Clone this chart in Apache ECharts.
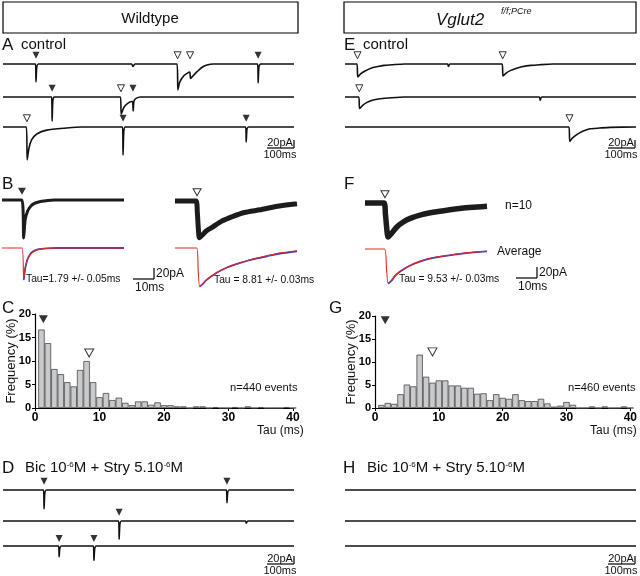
<!DOCTYPE html>
<html>
<head>
<meta charset="utf-8">
<script src="https://cdn.jsdelivr.net/npm/echarts@6/dist/echarts.min.js"></script>
<style>
  html, body { margin: 0; padding: 0; background: #fff; }
  #chart { width: 640px; height: 576px; }
</style>
</head>
<body>
<div id="chart"></div>
<script>
// ---- histogram data: Tau bins (ms) and frequency (%) ----
var tauBins = [1, 2, 3, 4, 5, 6, 7, 8, 9, 10, 11, 12, 13, 14, 15, 16, 17, 18, 19, 20,
  21, 22, 23, 24, 25, 26, 27, 28, 29, 30, 31, 32, 33, 34, 35, 36, 37, 38, 39, 40];
var wildtypeFreq = [16.7, 13.8, 8.3, 7.2, 5.5, 4.6, 8.1, 10.0, 5.5, 2.3, 3.2, 1.7, 2.2, 1.1, 0.6, 1.4, 1.4, 0.7, 1.2, 0.6,
  0.6, 0.35, 0.35, 0, 0.35, 0.35, 0, 0.2, 0, 0, 0.2, 0, 0.35, 0, 0.2, 0, 0, 0, 0.2, 0];
var vglutFreq = [0.65, 1.1, 0.9, 3.0, 5.1, 4.7, 11.6, 6.8, 5.5, 6.0, 6.0, 4.9, 4.9, 4.4, 4.4, 3.1, 3.2, 1.7, 3.0, 2.2,
  2.0, 3.0, 1.7, 1.5, 1.5, 2.0, 1.0, 0.3, 0.5, 1.3, 0.7, 0, 0, 0.35, 0, 0.35, 0, 0, 0.35, 0];
var freqTicks = [0, 5, 10, 15, 20];
var tauTicks = [0, 10, 20, 30, 40];
// arrow marks on histograms [tau, %]
var wtFastMark = [[1.3, 18.9]];
var wtSlowMark = [[8.4, 11.7]];
var vgFastMark = [[1.6, 19.1]];
var vgSlowMark = [[9.0, 12.2]];

// ---- recordings, [time ms, current pA] ----
var traceA1 = [[0, 0], [125, 0], [127, -51], [130, -8], [136, 0], [495, 0], [500, -7], [508, 0], [670, 0], [673, -74], [680, -52],
  [695, -34], [710, -26], [719, -23], [722, -41], [735, -31], [747, -22], [765, -10], [785, -3], [810, 0], [980, 0], [982, -54],
  [985, -8], [991, 0], [1120, 0]];
var traceA2 = [[0, 0], [187, 0], [189, -69], [192, -10], [198, 0], [452, 0], [455, -49], [465, -30], [480, -18], [496, -13],
  [499, -13], [501, -40], [504, -12], [512, -4], [530, 0], [1120, 0]];
var traceA3 = [[0, 0], [90, 0], [93, -94], [100, -60], [110, -37], [130, -20], [168, -9], [245, -3], [300, 0], [460, 0],
  [462, -80], [465, -12], [471, 0], [934, 0], [936, -43], [939, -6], [945, 0], [1120, 0]];
var fastA = [[127, 982], [189, 500], [462, 936]];
var slowA = [[672, 720], [454], [92]];

var traceE1 = [[0, 0], [46, 0], [49, -37], [60, -28], [77, -20], [100, -12], [122, -8], [150, -4], [185, -2], [230, 0],
  [395, 0], [398, -7], [404, 0], [605, 0], [608, -34], [620, -26], [636, -19], [660, -12], [681, -8], [715, -4], [750, -2],
  [800, 0], [1120, 0]];
var traceE2 = [[0, 0], [53, 0], [56, -33], [68, -24], [83, -16], [105, -9], [135, -5], [180, -2], [230, 0], [748, 0],
  [751, -9], [757, 0], [1120, 0]];
var traceE3 = [[0, 0], [862, 0], [865, -41], [875, -32], [892, -22], [915, -12], [943, -5], [980, -3], [1020, -1], [1120, 0]];
var slowE = [[48, 607], [55], [864]];

var traceD1 = [[0, 0], [156, 0], [158, -54], [161, -8], [167, 0], [860, 0], [862, -36], [865, -6], [871, 0], [1120, 0]];
var traceD2 = [[0, 0], [445, 0], [447, -52], [450, -8], [456, 0], [933, 0], [936, -6], [942, 0], [1120, 0]];
var traceD3 = [[0, 0], [214, 0], [216, -36], [219, -6], [225, 0], [348, 0], [350, -48], [353, -8], [359, 0], [1120, 0]];
var fastD = [[158, 862], [447], [216, 350]];

var traceH1 = [[0, 0], [1120, 0]];
var traceH2 = [[0, 0], [1120, 0]];
var traceH3 = [[0, 0], [1120, 0]];

// superimposed events (B, F), time ms
var fastEvents = [[0, 0], [9.5, 0], [10.3, -69], [11, -36], [12.2, -20], [13.5, -12], [15, -7], [17, -4], [20, -2], [25, 0], [58, 0]];
var fastAverage = [[0, 0], [9.5, 0], [10.3, -58], [11, -36], [12, -22], [13, -14], [14.5, -8], [17, -3], [21, -1], [26, 0], [58, 0]];
var fastFit = [[10.3, -58], [11, -38], [12, -22], [13, -13.5], [14.5, -7], [17, -2.5], [21, -0.5], [26, 0], [58, 0]];
var slowEvents = [[0, 0], [10, 0], [10.6, -20], [11.6, -67], [13, -62], [15, -54], [18, -47], [22, -37], [27.6, -28], [33, -21],
  [40.5, -16], [48, -10], [58, -5]];
var slowAverage = [[0, 0], [10.3, 0], [11, -40], [11.7, -70], [13, -66], [15, -58], [19.8, -45], [25, -35], [31, -27], [37, -20],
  [43.7, -14], [50, -9], [58, -5]];
var slowFit = [[11.7, -70], [13, -66], [15, -58], [19.8, -45], [25, -35], [31, -27], [37, -20.5], [43.7, -15], [50, -10], [58, -6]];
var vgEvents = [[0, 0], [9, 0], [9.7, -20], [11, -62], [12.5, -56], [15, -44], [18, -35], [21.5, -28], [27, -21], [34, -16],
  [45, -10], [58, -6]];
var vgAverage = [[0, 0], [9.3, 0], [10.2, -35], [11, -63], [12.5, -58], [14.5, -48], [16.7, -41], [21, -31], [26, -22.5],
  [32, -16], [39, -12], [48, -7], [58, -4]];
var vgFit = [[11, -63], [12.5, -58], [14.5, -48], [16.7, -41], [21, -31], [26, -23], [32, -16.5], [39, -12], [48, -7.5], [58, -4.5]];

var FONT = '"Liberation Sans", Arial, sans-serif';
var RED = '#e5261f';
var BLUE = '#3a3fc0';

var grids = [], xAxes = [], yAxes = [], series = [];

function addGrid(left, top, width, height, xr, yr) {
  var i = grids.length;
  grids.push({ left: left, top: top, width: width, height: height });
  xAxes.push({ gridIndex: i, type: 'value', min: xr[0], max: xr[1], show: false });
  yAxes.push({ gridIndex: i, type: 'value', min: yr[0], max: yr[1], show: false });
  return i;
}

function addTrace(g, data, color, width, z) {
  series.push({
    type: 'line', xAxisIndex: g, yAxisIndex: g, data: data,
    symbol: 'none', smooth: 0.2, silent: true, z: z || 2,
    lineStyle: { color: color, width: width }
  });
}

function addMarks(g, pts, filled, size) {
  series.push({
    type: 'scatter', xAxisIndex: g, yAxisIndex: g, data: pts,
    symbol: 'triangle', symbolRotate: 180, symbolSize: size, silent: true, z: 5,
    itemStyle: filled ? { color: '#000' } : { color: '#fff', borderColor: '#000', borderWidth: 1 }
  });
}

// long recordings: 0.35 px per pA, baseline 14px below grid top
function recordingRow(left, baseline, data, fast, slow) {
  var g = addGrid(left, baseline - 14, 291, 49, [0, 1120], [-100, 40]);
  addTrace(g, data, '#111', 1.6);
  if (fast && fast.length) addMarks(g, fast.map(function (t) { return [t, 25]; }), true, [7, 7]);
  if (slow && slow.length) addMarks(g, slow.map(function (t) { return [t, 25]; }), false, [7, 7]);
}

var rowsTop = [64, 97, 127];
recordingRow(3, rowsTop[0], traceA1, fastA[0], slowA[0]);
recordingRow(3, rowsTop[1], traceA2, fastA[1], slowA[1]);
recordingRow(3, rowsTop[2], traceA3, fastA[2], slowA[2]);
recordingRow(345, rowsTop[0], traceE1, [], slowE[0]);
recordingRow(345, rowsTop[1], traceE2, [], slowE[1]);
recordingRow(345, rowsTop[2], traceE3, [], slowE[2]);

var rowsBottom = [490, 521, 548];
recordingRow(3, rowsBottom[0], traceD1, fastD[0], []);
recordingRow(3, rowsBottom[1], traceD2, fastD[1], []);
recordingRow(3, rowsBottom[2], traceD3, fastD[2], []);
recordingRow(345, rowsBottom[0], traceH1, [], []);
recordingRow(345, rowsBottom[1], traceH2, [], []);
recordingRow(345, rowsBottom[2], traceH3, [], []);

// superimposed events: 2.1 px per ms, 0.55 px per pA
function eventPanel(left, blackBase, redBase, events, avg, fit, markT, filled, bandWidth) {
  var g1 = addGrid(left, blackBase - 13.75, 122, 57.75, [0, 58], [-80, 25]);
  addTrace(g1, events, '#1c1c1c', bandWidth);
  addMarks(g1, [[markT, 16]], filled, [8, 7]);
  var g2 = addGrid(left, redBase - 13.75, 122, 57.75, [0, 58], [-80, 25]);
  addTrace(g2, fit, BLUE, 1.8, 2);
  addTrace(g2, avg, RED, 1.1, 3);
}
eventPanel(2, 200, 248, fastEvents, fastAverage, fastFit, 9.5, true, 3);
eventPanel(175, 201, 248, slowEvents, slowAverage, slowFit, 10.5, false, 5);
eventPanel(365, 203, 249, vgEvents, vgAverage, vgFit, 9.5, false, 5.5);

// histograms
function histogram(left, top, width, height, freq, fastMark, slowMark) {
  var i = grids.length;
  grids.push({ left: left, top: top, width: width, height: height });
  xAxes.push({
    gridIndex: i, type: 'value', min: tauTicks[0], max: tauTicks[tauTicks.length - 1], interval: 10,
    axisLine: { lineStyle: { color: '#000', width: 1.2 } },
    axisTick: { show: true, length: 3, lineStyle: { color: '#000' } },
    axisLabel: { color: '#000', fontSize: 12, fontWeight: 'bold', fontFamily: FONT, margin: 4 },
    splitLine: { show: false }
  });
  yAxes.push({
    gridIndex: i, type: 'value', min: freqTicks[0], max: freqTicks[freqTicks.length - 1], interval: 5,
    name: 'Frequency (%)', nameLocation: 'middle', nameGap: 17, nameMoveOverlap: false,
    nameTextStyle: { color: '#111', fontSize: 13, fontFamily: FONT },
    axisLine: { show: true, lineStyle: { color: '#000', width: 1.2 } },
    axisTick: { show: true, length: 3, lineStyle: { color: '#000' } },
    axisLabel: { color: '#000', fontSize: 11, fontWeight: 'bold', fontFamily: FONT, margin: 4 },
    splitLine: { show: false }
  });
  series.push({
    type: 'bar', xAxisIndex: i, yAxisIndex: i, barWidth: width / 40,
    data: tauBins.map(function (b, k) { return [b, freq[k]]; }),
    itemStyle: { color: '#c9cace', borderColor: '#4a4a4a', borderWidth: 0.8 },
    silent: true
  });
  addMarks(i, fastMark, true, [9, 8]);
  addMarks(i, slowMark, false, [9, 8]);
}
histogram(35, 314, 258, 94, wildtypeFreq, wtFastMark, wtSlowMark);
histogram(375, 316, 257, 92, vglutFreq, vgFastMark, vgSlowMark);

// ---- annotations ----
function txt(x, y, s, size, extra) {
  var st = { text: s, fontSize: size, fontFamily: FONT, fill: '#111', align: 'left', verticalAlign: 'middle',
    textAlign: 'left', textVerticalAlign: 'middle' };
  for (var k in (extra || {})) st[k] = extra[k];
  return { type: 'text', x: x, y: y, style: st, z: 10 };
}
function ln(x1, y1, x2, y2) {
  return { type: 'line', shape: { x1: x1, y1: y1, x2: x2, y2: y2 }, style: { stroke: '#000', lineWidth: 1.2 }, z: 10 };
}
function scaleBarLong(xr, yText) {
  return [
    txt(xr - 14, yText, '20pA', 11, { align: 'center', textAlign: 'center' }),
    ln(xr - 27, yText + 5, xr, yText + 5),
    ln(xr, yText - 3, xr, yText + 5),
    txt(xr - 14, yText + 12, '100ms', 11, { align: 'center', textAlign: 'center' })
  ];
}
function scaleBarShort(xv, yBottom) {
  return [
    ln(xv - 21, yBottom, xv, yBottom),
    ln(xv, yBottom - 11, xv, yBottom),
    txt(xv + 2, yBottom - 5, '20pA', 12),
    txt(xv - 19, yBottom + 9, '10ms', 12)
  ];
}

var supRich = {
  n: { fontSize: 15, fontFamily: FONT, fill: '#111', verticalAlign: 'middle' },
  s: { fontSize: 8, fontFamily: FONT, fill: '#111', verticalAlign: 'top' }
};

var graphics = [
  { type: 'rect', shape: { x: 3, y: 2, width: 295, height: 31 }, style: { fill: '#fff', stroke: '#000', lineWidth: 1.2 } },
  { type: 'rect', shape: { x: 344, y: 2, width: 292, height: 31 }, style: { fill: '#fff', stroke: '#000', lineWidth: 1.2 } },
  txt(150, 19, 'Wildtype', 15, { align: 'center', textAlign: 'center' }),
  txt(436, 20, 'Vglut2', 17, { fontStyle: 'italic' }),
  txt(501, 11, 'f/f;PCre', 9, { fontStyle: 'italic' }),
  txt(2, 45, 'A', 17), txt(21, 45, 'control', 15),
  txt(344, 45, 'E', 17), txt(363, 45, 'control', 15),
  txt(2, 184, 'B', 17), txt(344, 184, 'F', 17),
  txt(2, 308, 'C', 17), txt(329, 308, 'G', 17),
  txt(2, 468, 'D', 17), txt(343, 468, 'H', 17),
  txt(25, 468, '{n|Bic 10}{s|-6}{n|M + Stry 5.10}{s|-6}{n|M}', 15, { rich: supRich }),
  txt(367, 468, '{n|Bic 10}{s|-6}{n|M + Stry 5.10}{s|-6}{n|M}', 15, { rich: supRich }),
  txt(26, 279, 'Tau=1.79 +/- 0.05ms', 10.3),
  txt(214, 280, 'Tau = 8.81 +/- 0.03ms', 10.3),
  txt(399, 279, 'Tau = 9.53 +/- 0.03ms', 10.3),
  txt(505, 206, 'n=10', 12),
  txt(497, 252, 'Average', 12),
  txt(230, 388, 'n=440 events', 11.2),
  txt(568, 388, 'n=460 events', 11.2),
  txt(257, 431, 'Tau (ms)', 12),
  txt(590, 431, 'Tau (ms)', 12)
]
  .concat(scaleBarLong(294, 143))
  .concat(scaleBarLong(635, 143))
  .concat(scaleBarLong(294, 559))
  .concat(scaleBarLong(635, 559))
  .concat(scaleBarShort(154, 279))
  .concat(scaleBarShort(537, 278));

var myChart = echarts.init(document.getElementById('chart'), null, { renderer: 'canvas' });
myChart.setOption({
  animation: false,
  backgroundColor: '#fff',
  grid: grids,
  xAxis: xAxes,
  yAxis: yAxes,
  series: series,
  graphic: graphics
});
</script>
</body>
</html>
